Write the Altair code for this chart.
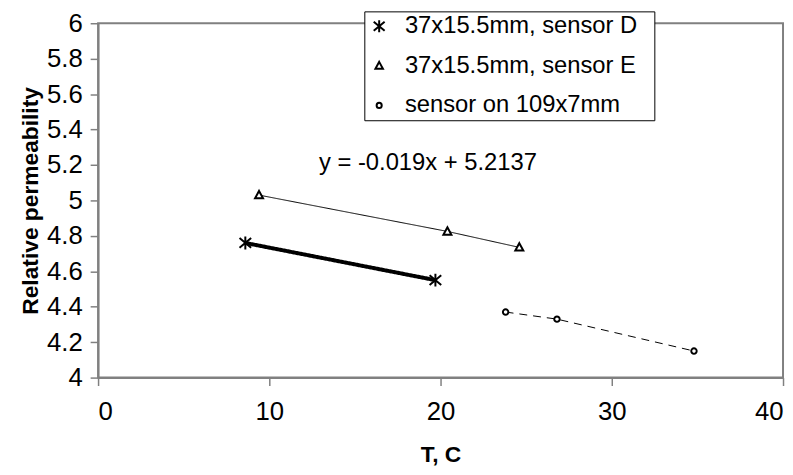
import altair as alt
import pandas as pd

series_names = ["37x15.5mm, sensor D", "37x15.5mm, sensor E", "sensor on 109x7mm"]
d_T = [8.6, 19.7]
d_mu = [4.76, 4.55]
e_T = [9.4, 20.4, 24.6]
e_mu = [5.03, 4.825, 4.735]
c_T = [23.8, 26.8, 34.8]
c_mu = [4.37, 4.33, 4.15]

eq_text = ["y = -0.019x + 5.2137"]
eq_T = [12.9]
eq_mu = [5.17]

x_ticks = [0, 10, 20, 30, 40]
y_ticks = [4, 4.2, 4.4, 4.6, 4.8, 5, 5.2, 5.4, 5.6, 5.8, 6]

rows = []
for name, ts, ms in zip(series_names, [d_T, e_T, c_T], [d_mu, e_mu, c_mu]):
    for t, m in zip(ts, ms):
        rows.append({"series": name, "T": t, "mu": m})
df = pd.DataFrame(rows)
eq_df = pd.DataFrame({"label": eq_text, "T": eq_T, "mu": eq_mu})

FONT = "Liberation Sans"
# marker outlines (unit box -1..1); all drawn at one symbol size
star_path = "M0,-1L0,1M-0.9,-0.75L0.9,0.75M-0.9,0.75L0.9,-0.75"
tri_path = "M0,-0.65L0.62,0.5L-0.62,0.5Z"
circ_path = "M-0.42,0A0.42,0.42 0 1,0 0.42,0A0.42,0.42 0 1,0 -0.42,0Z"

x_enc = alt.X("T:Q", scale=alt.Scale(domain=[0, 40], nice=False, zero=False),
              axis=alt.Axis(values=x_ticks, title="T, C", labelPadding=13, titlePadding=20,
                            labelOverlap=False))
y_enc = alt.Y("mu:Q", scale=alt.Scale(domain=[4, 6], nice=False, zero=False),
              axis=alt.Axis(values=y_ticks, format="~g", title="Relative permeability",
                            labelPadding=8, titlePadding=4, labelOverlap=False))

line_styles = [(4, [1, 0]), (1, [1, 0]), (1, [8, 6])]
line_layers = []
for name, (sw, dash) in zip(series_names, line_styles):
    line_layers.append(
        alt.Chart(df).transform_filter(alt.datum.series == name)
        .mark_line(color="black", strokeWidth=sw, strokeDash=dash)
        .encode(x=x_enc, y=y_enc)
    )

legend_obj = alt.Legend(title="\u00a0", titleOrient="right", titlePadding=14, titleFontSize=10,
                        orient="none", legendX=269, legendY=-12)

points = alt.Chart(df).mark_point(filled=False, fill="white", strokeWidth=2,
                                  opacity=1, size=170).encode(
    x=x_enc, y=y_enc,
    color=alt.Color("series:N", scale=alt.Scale(domain=series_names, range=["black", "black", "black"]),
                    legend=legend_obj),
    shape=alt.Shape("series:N", scale=alt.Scale(domain=series_names, range=[star_path, tri_path, circ_path]),
                    legend=legend_obj),
)

eq = alt.Chart(eq_df).mark_text(align="left", baseline="alphabetic", fontSize=24, font=FONT, color="black").encode(
    x=x_enc, y=y_enc, text="label:N"
)

chart = alt.layer(*line_layers, points, eq).properties(
    width=692, height=358,
    padding={"left": 91, "top": 13, "right": 2, "bottom": 96},
    autosize="none",
).configure_view(
    stroke="#808080", strokeWidth=2
).configure_axis(
    grid=False, domainColor="#808080", domainWidth=2, tickColor="#808080", tickWidth=1.5, tickSize=8,
    labelFont=FONT, labelFontSize=26, labelColor="black",
    titleFont=FONT, titleFontSize=23, titleFontWeight="bold", titleColor="black",
).configure_legend(
    labelFontSize=24, labelFont=FONT, labelColor="black",
    strokeColor="black", fillColor="white", padding=3,
    rowPadding=16, labelOffset=14, labelLimit=500,
    symbolStrokeWidth=2, symbolSize=150,
)

chart.save("out.html", embed_options={"renderer": "svg", "actions": False})
